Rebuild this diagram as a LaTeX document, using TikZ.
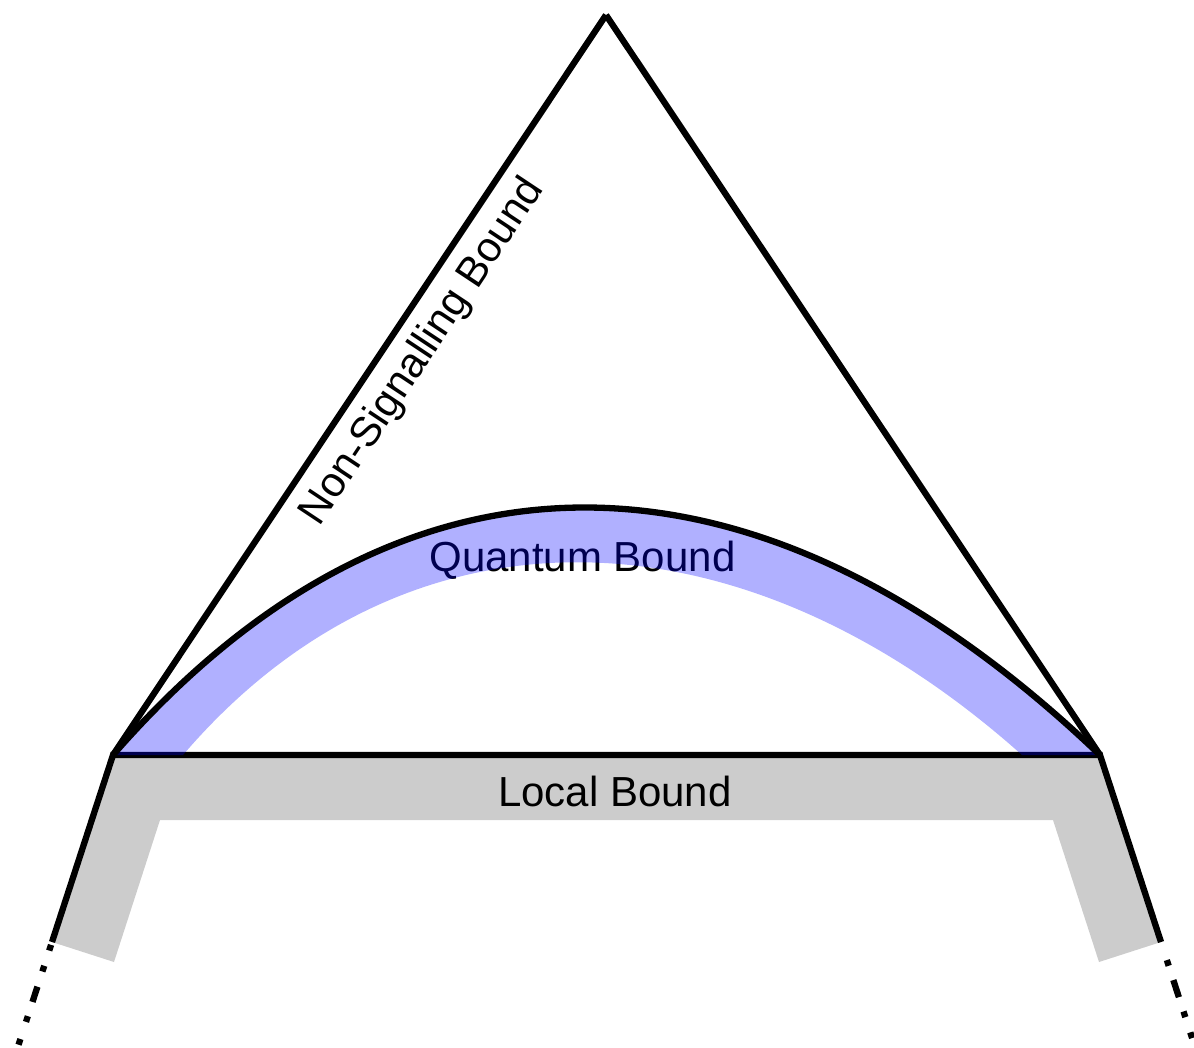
\documentclass[tikz,border=0pt]{standalone}
\usepackage{fontspec}
\setmainfont{Liberation Sans}
\begin{document}
\begin{tikzpicture}[x=1pt,y=-1pt,
  bound/.style={line width=6.3pt},
  lbl/.style={font=\fontsize{42}{50}\selectfont, inner sep=0pt},
  band/.style={fill=blue, opacity=0.31},
]
\useasboundingbox (0,0) rectangle (1194,1047);
\coordinate (A) at (113,755);
\coordinate (B) at (1100,755);
\coordinate (T) at (606,15);
\coordinate (LE) at (52,942);
\coordinate (RE) at (1161,942);
\coordinate (LD) at (17.8,1047);
\coordinate (RD) at (1195,1047);
% local band
\fill[black!20] (A) -- (B) -- (RE) -- (1099,962) -- (1053,820) -- (160,820) -- (114,962) -- (LE) -- cycle;
\node[lbl, anchor=base] (local) at (615,806.5) {Local Bound};
% local bound and legs
\draw[bound] (LE) -- (A) -- (B) -- (RE);
\draw[bound, dash pattern=on 0pt off 3pt on 6pt off 16pt on 6pt off 16pt on 16pt off 15pt on 6pt off 18pt on 6pt off 60pt] (LE) -- (LD);
\draw[bound, dash pattern=on 0pt off 19pt on 6pt off 15pt on 18pt off 15pt on 6pt off 16pt on 6pt off 60pt] (RE) -- (RD);
% non-signalling triangle
\draw[bound] (A) -- (T);
\draw[bound] (T) -- (B);
\node[lbl, rotate=56.4] (ns) at (423,352) {Non-Signalling Bound};
% quantum band
\node[lbl, anchor=base] (quantum) at (582.5,571.5) {Quantum Bound};
\fill[band] (A) .. controls (400,425) and (755,425) .. (B) -- (1022,755) .. controls (734,498) and (403,498) .. (183,755) -- cycle;
\draw[bound] (A) .. controls (400,425) and (755,425) .. (B);
\end{tikzpicture}
\end{document}
